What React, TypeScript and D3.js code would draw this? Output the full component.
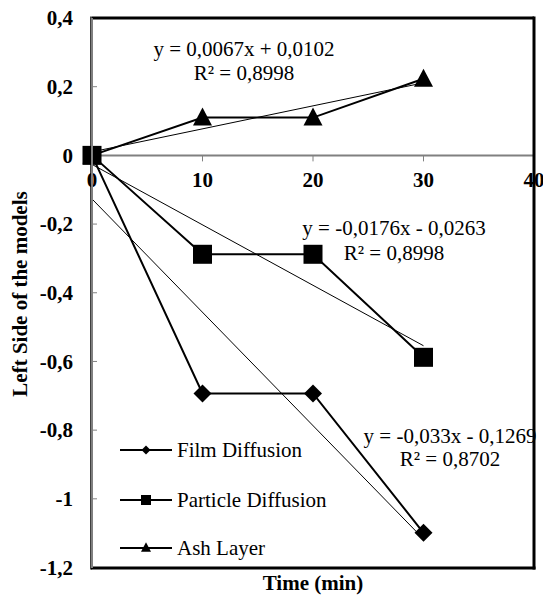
import React from "react";
import * as d3 from "d3";

const times = [0, 10, 20, 30];
const filmDiffusion = [0, -0.693, -0.693, -1.099];
const particleDiffusion = [0, -0.288, -0.288, -0.588];
const ashLayer = [0, 0.11, 0.11, 0.223];

const seriesNames = ["Film Diffusion", "Particle Diffusion", "Ash Layer"];
const seriesMarkers = ["diamond", "square", "triangle"];
const trendSlopes = [-0.033, -0.0176, 0.0067];
const trendIntercepts = [-0.1269, -0.0263, 0.0102];
const trendEquations = [
  ["y = -0,033x - 0,1269", "R² = 0,8702"],
  ["y = -0,0176x - 0,0263", "R² = 0,8998"],
  ["y = 0,0067x + 0,0102", "R² = 0,8998"],
];
const trendRange = [0, 30];

const xTicks = [0, 10, 20, 30, 40];
const yTicks = [0.4, 0.2, 0, -0.2, -0.4, -0.6, -0.8, -1, -1.2];
const xTitle = "Time (min)";
const yTitle = "Left Side of the models";

const W = 543;
const H = 598;
const FONT = '"Liberation Serif", "Times New Roman", "DejaVu Serif", serif';

const x = d3.scaleLinear().domain([0, 40]).range([92, 534]);
const y = d3.scaleLinear().domain([-1.2, 0.4]).range([567.5, 18]);

const fmt = (v: number) => {
  const s = d3.format("")(Math.round(v * 10) / 10);
  return s.replace(".", ",").replace("−", "-");
};

function Marker({ type, cx, cy, size }: { type: string; cx: number; cy: number; size: number }) {
  if (type === "diamond") {
    const h = size / 2;
    const p = `M${cx},${cy - h}L${cx + h},${cy}L${cx},${cy + h}L${cx - h},${cy}Z`;
    return <path d={p} fill="#000" />;
  }
  if (type === "square") {
    return <rect x={cx - size / 2} y={cy - size / 2} width={size} height={size} fill="#000" />;
  }
  const h = size * 0.95;
  const w = size;
  const p = `M${cx},${cy - h / 2 - 1}L${cx + w / 2},${cy + h / 2 - 1}L${cx - w / 2},${cy + h / 2 - 1}Z`;
  return <path d={p} fill="#000" />;
}

export default function App() {
  const allSeries = [filmDiffusion, particleDiffusion, ashLayer];
  const line = d3
    .line<[number, number]>()
    .x((d) => x(d[0]))
    .y((d) => y(d[1]));

  const markerSizes = [18, 19, 19];
  const legendY = [450, 500, 548];
  const legendSizes = [9, 10, 10];
  const eqPos = [
    { cx: 450, y1: 443, y2: 466 },
    { cx: 394, y1: 235, y2: 260 },
    { cx: 244, y1: 56, y2: 80 },
  ];

  const frameColor = "#000";
  const axisColor = "#808080";
  const tstyle = { fontFamily: FONT };

  return (
    <svg
      width={W}
      height={H}
      style={{ position: "absolute", left: 0, top: 0, background: "#fff", fontFamily: FONT }}
    >
      <rect x={0} y={0} width={W} height={H} fill="#fff" />

      {/* y ticks */}
      {yTicks.map((t) => (
        <g key={"yt" + t}>
          <line x1={x(0)} x2={x(0) + 5} y1={y(t)} y2={y(t)} stroke={axisColor} strokeWidth={1} />
          <text
            x={73}
            y={y(t)}
            dy="0.35em"
            textAnchor="end"
            fontSize={21}
            fontWeight="bold"
            fill="#000"
            style={tstyle}
          >
            {fmt(t)}
          </text>
        </g>
      ))}

      {/* x axis at y=0 */}
      <line x1={x(0)} x2={x(40)} y1={y(0)} y2={y(0)} stroke={axisColor} strokeWidth={2} />
      {xTicks.map((t) => (
        <g key={"xt" + t}>
          <line x1={x(t)} x2={x(t)} y1={y(0)} y2={y(0) + 6} stroke={axisColor} strokeWidth={1} />
          <text
            x={x(t)}
            y={187}
            textAnchor="middle"
            fontSize={21}
            fontWeight="bold"
            fill="#000"
            style={tstyle}
          >
            {t}
          </text>
        </g>
      ))}

      {/* series lines */}
      {allSeries.map((s, i) => (
        <path
          key={"s" + i}
          d={line(times.map((t, j) => [t, s[j]] as [number, number])) || ""}
          fill="none"
          stroke="#000"
          strokeWidth={2}
        />
      ))}

      {/* trendlines */}
      {trendSlopes.map((m, i) => (
        <line
          key={"tr" + i}
          x1={x(trendRange[0])}
          y1={y(m * trendRange[0] + trendIntercepts[i])}
          x2={x(trendRange[1])}
          y2={y(m * trendRange[1] + trendIntercepts[i])}
          stroke="#000"
          strokeWidth={1}
        />
      ))}

      {/* markers */}
      {allSeries.map((s, i) =>
        times.map((t, j) => (
          <Marker
            key={"m" + i + "-" + j}
            type={seriesMarkers[i]}
            cx={x(t)}
            cy={y(s[j])}
            size={markerSizes[i]}
          />
        ))
      )}

      {/* equations */}
      {trendEquations.map((eq, i) => (
        <g key={"eq" + i} fill="#000">
          <text x={eqPos[i].cx} y={eqPos[i].y1} textAnchor="middle" fontSize={21} style={tstyle}>
            {eq[0]}
          </text>
          <text x={eqPos[i].cx} y={eqPos[i].y2} textAnchor="middle" fontSize={21} style={tstyle}>
            {eq[1]}
          </text>
        </g>
      ))}

      {/* legend */}
      {seriesNames.map((n, i) => (
        <g key={"lg" + i}>
          <line x1={120} x2={172} y1={legendY[i]} y2={legendY[i]} stroke="#000" strokeWidth={2} />
          <Marker type={seriesMarkers[i]} cx={146} cy={legendY[i]} size={legendSizes[i]} />
          <text x={177} y={legendY[i]} dy="0.35em" fontSize={21} fill="#000" style={tstyle}>
            {n}
          </text>
        </g>
      ))}

      {/* frame */}
      <line x1={x(0)} x2={x(40)} y1={18} y2={18} stroke={frameColor} strokeWidth={3} />
      <line x1={x(40)} x2={x(40)} y1={16.5} y2={569.5} stroke={frameColor} strokeWidth={3} />
      <line x1={x(0) - 1} x2={x(40) + 1.5} y1={568} y2={568} stroke={frameColor} strokeWidth={3} />
      <line x1={x(0) - 1} x2={x(0) - 1} y1={16.5} y2={569.5} stroke={frameColor} strokeWidth={1.5} />
      <line x1={x(0)} x2={x(0)} y1={18} y2={568} stroke={axisColor} strokeWidth={2} />

      {/* axis titles */}
      <text
        x={313}
        y={590}
        textAnchor="middle"
        fontSize={21}
        fontWeight="bold"
        fill="#000"
        style={tstyle}
      >
        {xTitle}
      </text>
      <text
        transform={`translate(27,294) rotate(-90)`}
        textAnchor="middle"
        fontSize={21}
        fontWeight="bold"
        fill="#000"
        style={tstyle}
      >
        {yTitle}
      </text>
    </svg>
  );
}
